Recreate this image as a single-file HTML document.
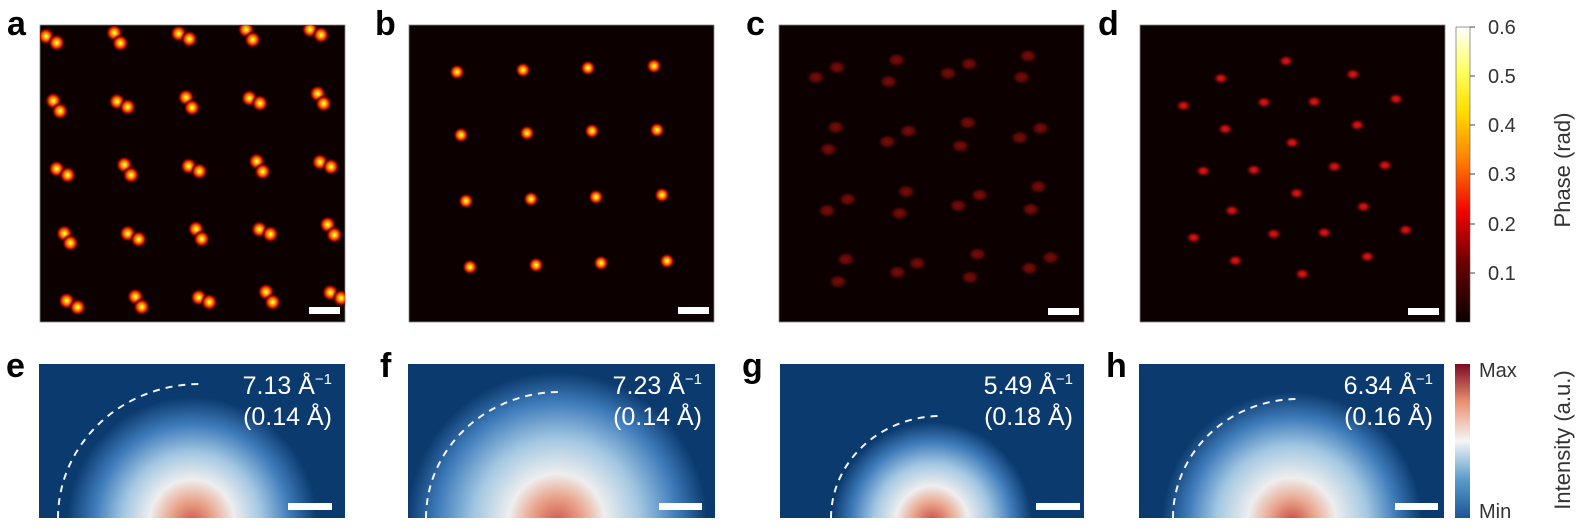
<!DOCTYPE html>
<html><head><meta charset="utf-8"><style>
html,body{margin:0;padding:0;background:#fff;}
svg{display:block;}
text{font-family:"Liberation Sans",sans-serif;}
</style></head><body>
<svg width="1585" height="532" viewBox="0 0 1585 532" xmlns="http://www.w3.org/2000/svg">
<defs>
<radialGradient id="hot"><stop offset="0" stop-color="#ffffa0"/><stop offset="0.2" stop-color="#ffd800"/><stop offset="0.45" stop-color="#ff6000"/><stop offset="0.7" stop-color="#a00800"/><stop offset="1" stop-color="#0c0000" stop-opacity="0"/></radialGradient>
<radialGradient id="dimc"><stop offset="0" stop-color="#7a0d08"/><stop offset="0.5" stop-color="#5a0805"/><stop offset="1" stop-color="#0c0000" stop-opacity="0"/></radialGradient>
<radialGradient id="dimd"><stop offset="0" stop-color="#e01818"/><stop offset="0.4" stop-color="#b00c0c"/><stop offset="1" stop-color="#0c0000" stop-opacity="0"/></radialGradient>
<linearGradient id="cbhot" x1="0" y1="1" x2="0" y2="0"><stop offset="0" stop-color="#0a0000"/><stop offset="0.2" stop-color="#6a0000"/><stop offset="0.37" stop-color="#f00000"/><stop offset="0.55" stop-color="#ff8000"/><stop offset="0.72" stop-color="#ffe000"/><stop offset="0.85" stop-color="#ffff60"/><stop offset="1" stop-color="#ffffff"/></linearGradient>
<linearGradient id="cbrb" x1="0" y1="1" x2="0" y2="0"><stop offset="0" stop-color="#1c5596"/><stop offset="0.25" stop-color="#5a9ccb"/><stop offset="0.5" stop-color="#f5f5f5"/><stop offset="0.75" stop-color="#eb9272"/><stop offset="1" stop-color="#7e0a22"/></linearGradient>
<radialGradient id="ge" gradientUnits="userSpaceOnUse" cx="192" cy="522" r="125"><stop offset="0" stop-color="#d0584a"/><stop offset="0.18" stop-color="#eaa890"/><stop offset="0.34" stop-color="#eeeeee"/><stop offset="0.55" stop-color="#a4c8e2"/><stop offset="0.78" stop-color="#3f7cbb"/><stop offset="1" stop-color="#0b3a6e"/></radialGradient>
<radialGradient id="gf" gradientUnits="userSpaceOnUse" cx="557" cy="522" r="150"><stop offset="0" stop-color="#d0584a"/><stop offset="0.18" stop-color="#eaa890"/><stop offset="0.32" stop-color="#eeeeee"/><stop offset="0.55" stop-color="#a4c8e2"/><stop offset="0.8" stop-color="#3f7cbb"/><stop offset="1" stop-color="#0b3a6e"/></radialGradient>
<radialGradient id="gg" gradientUnits="userSpaceOnUse" cx="932" cy="522" r="100"><stop offset="0" stop-color="#c8483e"/><stop offset="0.2" stop-color="#eaa890"/><stop offset="0.36" stop-color="#eeeeee"/><stop offset="0.58" stop-color="#a4c8e2"/><stop offset="0.8" stop-color="#3f7cbb"/><stop offset="1" stop-color="#0b3a6e"/></radialGradient>
<radialGradient id="gh" gradientUnits="userSpaceOnUse" cx="1292" cy="522" r="130"><stop offset="0" stop-color="#c8483e"/><stop offset="0.18" stop-color="#eaa890"/><stop offset="0.34" stop-color="#eeeeee"/><stop offset="0.58" stop-color="#a4c8e2"/><stop offset="0.8" stop-color="#3f7cbb"/><stop offset="1" stop-color="#0b3a6e"/></radialGradient>
</defs>

<rect x="40" y="25" width="305" height="297" fill="#0c0000" stroke="#888" stroke-width="0.8"/>
<rect x="409" y="25" width="305" height="297" fill="#0c0000" stroke="#888" stroke-width="0.8"/>
<rect x="779" y="25" width="305" height="297" fill="#0c0000" stroke="#888" stroke-width="0.8"/>
<rect x="1140" y="25" width="305" height="297" fill="#0c0000" stroke="#888" stroke-width="0.8"/>

<svg x="40" y="25" width="305" height="297" overflow="hidden">
<g transform="translate(0,-1) scale(0.3333,0.34) translate(-122,-72)" fill="url(#hot)">
<circle cx="140" cy="108" r="26"/><circle cx="172" cy="127" r="26"/><circle cx="345" cy="98" r="26"/><circle cx="363" cy="128" r="26"/><circle cx="538" cy="100" r="26"/><circle cx="570" cy="116" r="26"/><circle cx="740" cy="88" r="26"/><circle cx="760" cy="118" r="26"/><circle cx="932" cy="88" r="26"/><circle cx="965" cy="104" r="26"/>
<circle cx="162" cy="298" r="26"/><circle cx="182" cy="328" r="26"/><circle cx="353" cy="300" r="26"/><circle cx="385" cy="316" r="26"/><circle cx="560" cy="288" r="26"/><circle cx="578" cy="318" r="26"/><circle cx="750" cy="290" r="26"/><circle cx="782" cy="305" r="26"/><circle cx="955" cy="277" r="26"/><circle cx="973" cy="306" r="26"/>
<circle cx="172" cy="498" r="26"/><circle cx="205" cy="516" r="26"/><circle cx="375" cy="486" r="26"/><circle cx="395" cy="516" r="26"/><circle cx="568" cy="490" r="26"/><circle cx="600" cy="505" r="26"/><circle cx="772" cy="476" r="26"/><circle cx="790" cy="506" r="26"/><circle cx="962" cy="478" r="26"/><circle cx="995" cy="492" r="26"/>
<circle cx="195" cy="688" r="26"/><circle cx="213" cy="716" r="26"/><circle cx="385" cy="688" r="26"/><circle cx="418" cy="705" r="26"/><circle cx="590" cy="675" r="26"/><circle cx="607" cy="704" r="26"/><circle cx="780" cy="676" r="26"/><circle cx="813" cy="690" r="26"/><circle cx="985" cy="662" r="26"/><circle cx="1005" cy="692" r="26"/>
<circle cx="202" cy="886" r="26"/><circle cx="235" cy="905" r="26"/><circle cx="408" cy="874" r="26"/><circle cx="427" cy="904" r="26"/><circle cx="598" cy="876" r="26"/><circle cx="630" cy="890" r="26"/><circle cx="800" cy="860" r="26"/><circle cx="820" cy="890" r="26"/><circle cx="993" cy="862" r="26"/><circle cx="1025" cy="878" r="26"/>
</g></svg>

<g fill="url(#hot)">
<circle cx="457" cy="72" r="8"/><circle cx="523" cy="70" r="8"/><circle cx="588" cy="68" r="8"/><circle cx="654" cy="66" r="8"/>
<circle cx="461" cy="135" r="8"/><circle cx="527" cy="133" r="8"/><circle cx="592" cy="131" r="8"/><circle cx="657" cy="130" r="8"/>
<circle cx="466" cy="201" r="8"/><circle cx="531" cy="199" r="8"/><circle cx="596" cy="197" r="8"/><circle cx="662" cy="195" r="8"/>
<circle cx="470" cy="267" r="8"/><circle cx="536" cy="265" r="8"/><circle cx="601" cy="263" r="8"/><circle cx="667" cy="261" r="8"/>
</g>

<g transform="translate(750,20) scale(0.4401,0.3333)">
<g fill="url(#dimc)">
<circle cx="150" cy="172" r="24"/><circle cx="198" cy="142" r="24"/><circle cx="333" cy="120" r="24"/><circle cx="315" cy="185" r="24"/><circle cx="450" cy="160" r="24"/><circle cx="498" cy="132" r="24"/><circle cx="632" cy="108" r="24"/><circle cx="617" cy="172" r="24"/>
<circle cx="195" cy="322" r="24"/><circle cx="178" cy="388" r="24"/><circle cx="312" cy="365" r="24"/><circle cx="360" cy="333" r="24"/><circle cx="495" cy="308" r="24"/><circle cx="478" cy="378" r="24"/><circle cx="613" cy="353" r="24"/><circle cx="660" cy="325" r="24"/>
<circle cx="175" cy="572" r="24"/><circle cx="222" cy="538" r="24"/><circle cx="340" cy="580" r="24"/><circle cx="355" cy="515" r="24"/><circle cx="473" cy="557" r="24"/><circle cx="522" cy="525" r="24"/><circle cx="638" cy="568" r="24"/><circle cx="655" cy="500" r="24"/>
<circle cx="218" cy="718" r="24"/><circle cx="200" cy="785" r="24"/><circle cx="335" cy="757" r="24"/><circle cx="380" cy="730" r="24"/><circle cx="517" cy="703" r="24"/><circle cx="500" cy="772" r="24"/><circle cx="635" cy="745" r="24"/><circle cx="683" cy="713" r="24"/>
</g>
<g fill="url(#dimd)">
<circle cx="1218" cy="123" r="20"/><circle cx="1070" cy="175" r="20"/><circle cx="1370" cy="163" r="20"/><circle cx="985" cy="257" r="20"/><circle cx="1168" cy="247" r="20"/><circle cx="1282" cy="245" r="20"/><circle cx="1468" cy="237" r="20"/><circle cx="1080" cy="327" r="20"/><circle cx="1380" cy="315" r="20"/><circle cx="1232" cy="368" r="20"/><circle cx="1030" cy="453" r="20"/><circle cx="1145" cy="450" r="20"/><circle cx="1328" cy="440" r="20"/><circle cx="1443" cy="436" r="20"/><circle cx="1242" cy="520" r="20"/><circle cx="1095" cy="572" r="20"/><circle cx="1394" cy="560" r="20"/><circle cx="1008" cy="653" r="20"/><circle cx="1190" cy="642" r="20"/><circle cx="1305" cy="638" r="20"/><circle cx="1490" cy="630" r="20"/><circle cx="1103" cy="722" r="20"/><circle cx="1403" cy="710" r="20"/><circle cx="1255" cy="762" r="20"/>
</g></g>

<g fill="#fff">
<rect x="309" y="307" width="31" height="7"/><rect x="678" y="307" width="31" height="7"/><rect x="1048" y="308" width="31" height="7"/><rect x="1408" y="308" width="31" height="7"/>
</g>

<rect x="39" y="364" width="306" height="154" fill="url(#ge)"/>
<rect x="408" y="364" width="307" height="154" fill="url(#gf)"/>
<rect x="780" y="364" width="304" height="154" fill="url(#gg)"/>
<rect x="1139" y="364" width="305" height="154" fill="url(#gh)"/>
<g fill="none" stroke="#f0f4fa" stroke-width="2" stroke-dasharray="7,6">
<path d="M58 518 A142 134 0 0 1 200 384"/>
<path d="M426 518 A134 126 0 0 1 560 392"/>
<path d="M831 518 A110 102 0 0 1 941 416"/>
<path d="M1173 518 A125 119 0 0 1 1298 399"/>
</g>
<g fill="#fff">
<rect x="288" y="503" width="44" height="7"/><rect x="659" y="503" width="43" height="7"/><rect x="1036" y="503" width="44" height="7"/><rect x="1395" y="503" width="43" height="7"/>
</g>
<g fill="#fff" font-size="25" text-anchor="end">
<text x="332" y="394">7.13 Å<tspan dy="-10" font-size="15">−1</tspan></text><text x="332" y="425">(0.14 Å)</text>
<text x="702" y="394">7.23 Å<tspan dy="-10" font-size="15">−1</tspan></text><text x="702" y="425">(0.14 Å)</text>
<text x="1073" y="394">5.49 Å<tspan dy="-10" font-size="15">−1</tspan></text><text x="1073" y="425">(0.18 Å)</text>
<text x="1433" y="394">6.34 Å<tspan dy="-10" font-size="15">−1</tspan></text><text x="1433" y="425">(0.16 Å)</text>
</g>

<g font-size="34" font-weight="bold" fill="#000">
<text x="7" y="35">a</text><text x="375" y="35">b</text><text x="746" y="35">c</text><text x="1098" y="35">d</text>
<text x="6" y="377">e</text><text x="380" y="377">f</text><text x="742" y="377">g</text><text x="1106" y="377">h</text>
</g>

<rect x="1456" y="27" width="14" height="295" fill="url(#cbhot)" stroke="#555" stroke-width="0.6"/>
<g stroke="#444" stroke-width="1">
<line x1="1470" y1="27" x2="1475" y2="27"/><line x1="1470" y1="76" x2="1475" y2="76"/><line x1="1470" y1="125" x2="1475" y2="125"/><line x1="1470" y1="174" x2="1475" y2="174"/><line x1="1470" y1="224" x2="1475" y2="224"/><line x1="1470" y1="273" x2="1475" y2="273"/>
</g>
<g font-size="20" fill="#333">
<text x="1488" y="34">0.6</text><text x="1488" y="83">0.5</text><text x="1488" y="132">0.4</text><text x="1488" y="181">0.3</text><text x="1488" y="231">0.2</text><text x="1488" y="280">0.1</text>
</g>
<text transform="translate(1570,170) rotate(-90)" font-size="22" fill="#333" text-anchor="middle">Phase (rad)</text>

<rect x="1455" y="364" width="15" height="154" fill="url(#cbrb)"/>
<text x="1479" y="377" font-size="20" fill="#333">Max</text>
<text x="1479" y="518" font-size="20" fill="#333">Min</text>
<text transform="translate(1570,440) rotate(-90)" font-size="22" fill="#333" text-anchor="middle">Intensity (a.u.)</text>
</svg>
</body></html>
